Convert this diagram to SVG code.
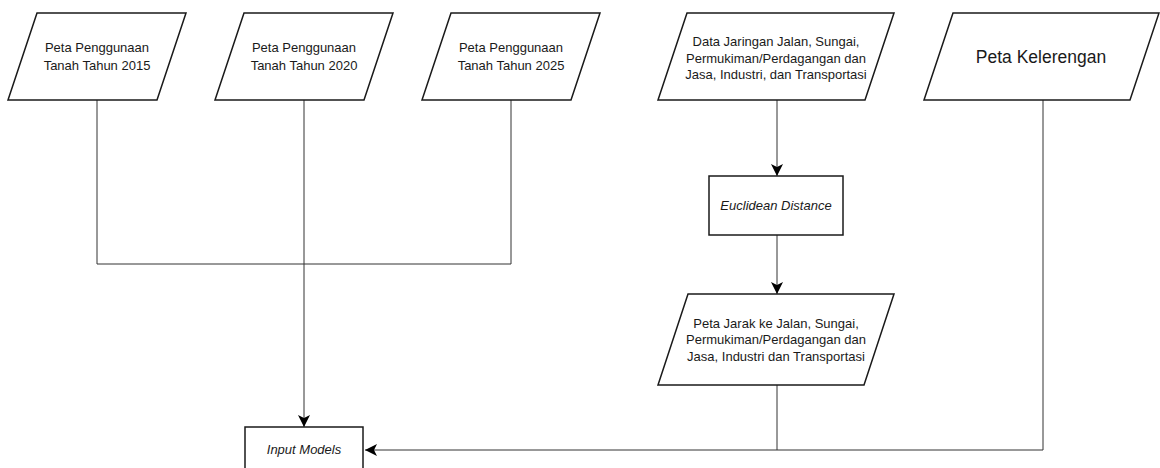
<svg xmlns="http://www.w3.org/2000/svg" width="1160" height="468" viewBox="0 0 1160 468">
<style>
.shape{fill:#ffffff;stroke:#1a1a1a;stroke-width:1.5}
.edge{fill:none;stroke:#333333;stroke-width:1}
.t{font-family:"Liberation Sans",Arial,sans-serif;font-size:13px;fill:#1a1a1a;text-anchor:middle}
.it{font-style:italic}
.big{font-size:17.5px}
</style>
<defs>
<marker id="arr" markerUnits="userSpaceOnUse" markerWidth="14" markerHeight="14" viewBox="0 0 14 14" refX="12" refY="6" orient="auto">
<path d="M0,0 L12,6 L0,12 L3,6 Z" fill="#000000"/>
</marker>
</defs>
<rect width="1160" height="468" fill="#ffffff"/>
<g id="connectors">
<path class="edge" d="M97,100 V264 H511 V100"/>
<path class="edge" d="M304,100 V427" marker-end="url(#arr)"/>
<path class="edge" d="M777,100 V176" marker-end="url(#arr)"/>
<path class="edge" d="M777,235 V294" marker-end="url(#arr)"/>
<path class="edge" d="M777,385 V450"/>
<path class="edge" d="M1043,100 V450 H365" marker-end="url(#arr)"/>
</g>
<g id="node-peta-2015">
<polygon class="shape" points="37,13 186,13 157,100 8,100"/>
<text class="t" x="97" y="52">Peta Penggunaan</text>
<text class="t" x="97" y="70">Tanah Tahun 2015</text>
</g>
<g id="node-peta-2020">
<polygon class="shape" points="244,13 393,13 364,100 215,100"/>
<text class="t" x="304" y="52">Peta Penggunaan</text>
<text class="t" x="304" y="70">Tanah Tahun 2020</text>
</g>
<g id="node-peta-2025">
<polygon class="shape" points="451,13 600,13 571,100 422,100"/>
<text class="t" x="511" y="52">Peta Penggunaan</text>
<text class="t" x="511" y="70">Tanah Tahun 2025</text>
</g>
<g id="node-data-jaringan">
<polygon class="shape" points="687,13 894,13 865,100 658,100"/>
<text class="t" x="776" y="46">Data Jaringan Jalan, Sungai,</text>
<text class="t" x="776" y="62.5">Permukiman/Perdagangan dan</text>
<text class="t" x="776" y="79">Jasa, Industri, dan Transportasi</text>
</g>
<g id="node-kelerengan">
<polygon class="shape" points="953,13 1159,13 1130,100 924,100"/>
<text class="t big" x="1041" y="63">Peta Kelerengan</text>
</g>
<g id="node-euclidean">
<rect class="shape" x="709" y="176" width="134" height="59"/>
<text class="t it" x="776" y="210">Euclidean Distance</text>
</g>
<g id="node-peta-jarak">
<polygon class="shape" points="688,294 894,294 864,385 658,385"/>
<text class="t" x="776" y="327.5">Peta Jarak ke Jalan, Sungai,</text>
<text class="t" x="776" y="344">Permukiman/Perdagangan dan</text>
<text class="t" x="776" y="360.5">Jasa, Industri dan Transportasi</text>
</g>
<g id="node-input-models">
<rect class="shape" x="245" y="427" width="118" height="46"/>
<text class="t it" x="304" y="454">Input Models</text>
</g>
</svg>
